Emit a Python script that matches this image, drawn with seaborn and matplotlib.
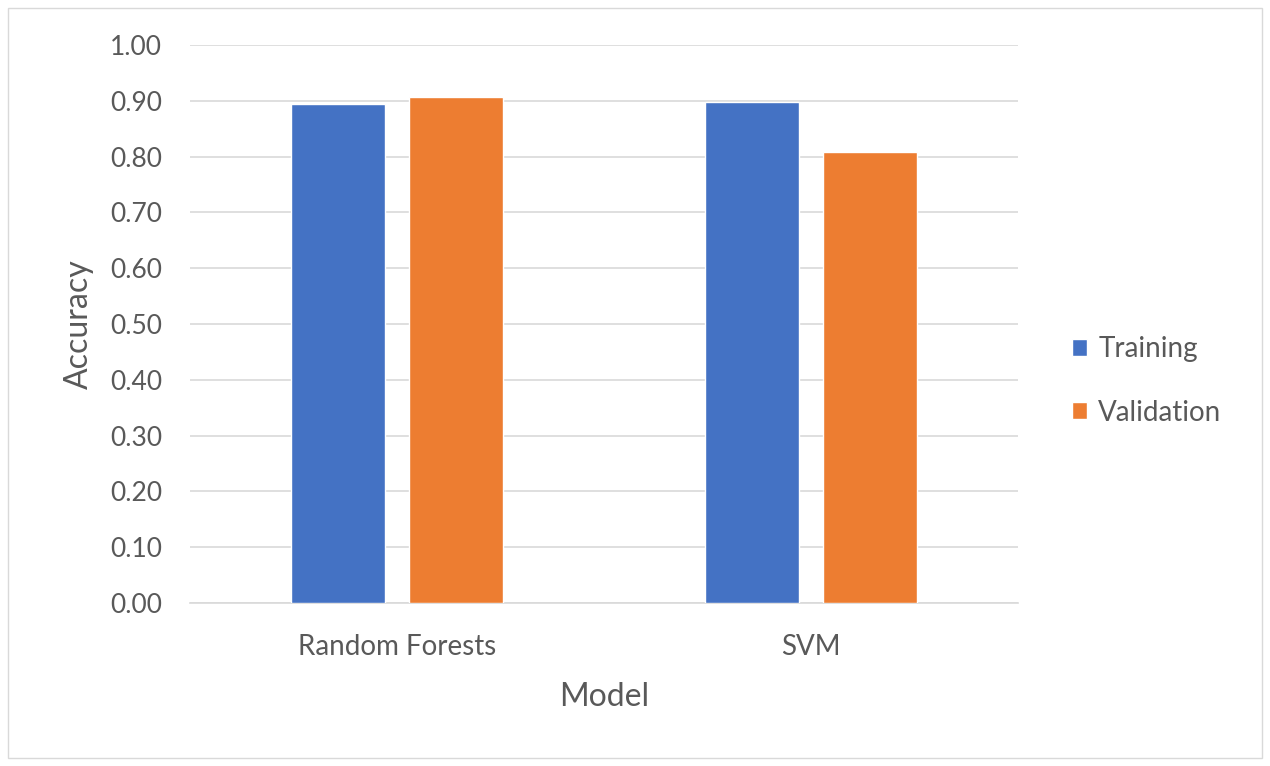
import pandas as pd
import seaborn as sns
import matplotlib.pyplot as plt
from matplotlib.patches import Rectangle

models = ["Random Forests", "SVM"]
training = [0.895, 0.897]
validation = [0.906, 0.808]
series = ["Training", "Validation"]
colors = ["#4472C4", "#ED7D31"]

df = pd.DataFrame({
    "Model": models * 2,
    "Accuracy": training + validation,
    "Set": [series[0]] * len(models) + [series[1]] * len(models),
})

sns.set_style("white")
plt.rcParams["font.family"] = ["Lato", "DejaVu Sans"]

fig = plt.figure(figsize=(12.7, 7.66), dpi=100)
ax = fig.add_axes([190 / 1270, 1 - 603 / 766, 828 / 1270, 558 / 766])

sns.barplot(data=df, x="Model", y="Accuracy", hue="Set", palette=colors,
            width=0.57, gap=0.21, ax=ax, zorder=3, saturation=1)

ax.set_ylim(0, 1.0)
ax.set_xlim(-0.5, 1.5)
ax.set_yticks([i / 10 for i in range(11)])
ax.set_yticklabels([f"{i / 10:.2f}" for i in range(11)])
ax.yaxis.grid(True, color="#D9D9D9", linewidth=1.2, zorder=0)
ax.set_axisbelow(True)
for s in ["top", "right", "left"]:
    ax.spines[s].set_visible(False)
ax.spines["bottom"].set_color("#D9D9D9")
ax.spines["bottom"].set_linewidth(1.2)
ax.tick_params(axis="both", length=0, labelsize=19, colors="#595959")
ax.tick_params(axis="y", pad=20)
ax.tick_params(axis="x", pad=22, labelsize=20)
ax.set_xlabel("Model", fontsize=23, color="#595959", labelpad=16)
ax.set_ylabel("Accuracy", fontsize=23, color="#595959", labelpad=12)

ax.legend(loc="center left", bbox_to_anchor=(1.035, 0.398), frameon=False,
          fontsize=20, labelcolor="#595959", handlelength=0.55, handleheight=0.55,
          handletextpad=0.4, labelspacing=1.35)

fig.patches.append(Rectangle((8 / 1270, 8 / 766), 1254 / 1270, 750 / 766,
                             transform=fig.transFigure, fill=False,
                             edgecolor="#D9D9D9", linewidth=1))

fig.savefig("out.png", dpi=100)
